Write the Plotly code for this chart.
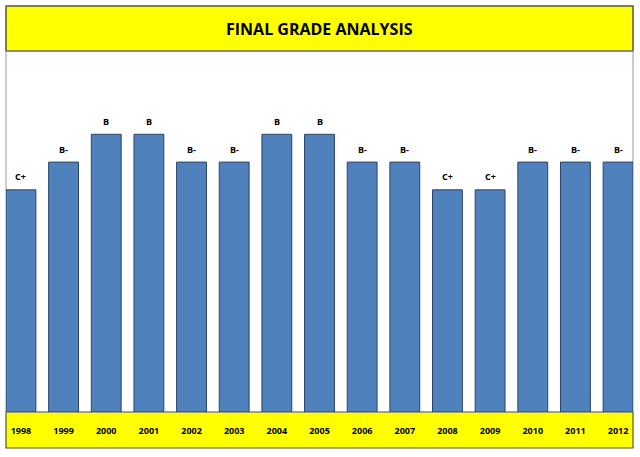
import plotly.graph_objects as go

# Data
years = ['1998', '1999', '2000', '2001', '2002', '2003', '2004', '2005',
         '2006', '2007', '2008', '2009', '2010', '2011', '2012']
grades = ['C+', 'B-', 'B', 'B', 'B-', 'B-', 'B', 'B', 'B-', 'B-', 'C+', 'C+', 'B-', 'B-', 'B-']
grade_points = [8, 9, 10, 10, 9, 9, 10, 10, 9, 9, 8, 8, 9, 9, 9]

BAR_BLUE = '#4F81BD'
YELLOW = '#FFFF00'
BAND_LINE = '#55552b'
FONT = 'Open Sans, Liberation Sans, sans-serif'

fig = go.Figure()
fig.add_trace(go.Bar(
    x=years, y=grade_points,
    marker=dict(color=BAR_BLUE, line=dict(color='#2b4466', width=1)),
    hoverinfo='skip'
))

# grade labels above each bar (x given as category index)
for i, (g, v) in enumerate(zip(grades, grade_points)):
    fig.add_annotation(x=i, y=v, text=g, showarrow=False, yshift=13,
                       font=dict(size=9, color='#000000', family=FONT, weight='bold'))

# title band + axis band
fig.add_shape(type='rect', xref='paper', yref='paper', x0=0, x1=1, y0=1, y1=1 + 45 / 361,
              fillcolor=YELLOW, line=dict(color=BAND_LINE, width=1.5), layer='below')
fig.add_shape(type='rect', xref='paper', yref='paper', x0=0, x1=1, y0=-36 / 361, y1=0,
              fillcolor=YELLOW, line=dict(color=BAND_LINE, width=1.2), layer='below')
fig.add_shape(type='rect', xref='paper', yref='paper', x0=0, x1=1, y0=0, y1=1,
              fillcolor='rgba(0,0,0,0)', line=dict(color='#9a9a9a', width=1), layer='below')
fig.add_annotation(xref='paper', yref='paper', x=0.5, y=1 + 22.5 / 361, text='FINAL GRADE ANALYSIS',
                   showarrow=False, yanchor='middle',
                   font=dict(size=16, color='#000000', family=FONT, weight='bold'))

fig.update_layout(
    width=640, height=457,
    margin=dict(l=6, r=7, t=51, b=45),
    paper_bgcolor='white', plot_bgcolor='white',
    bargap=0.3, showlegend=False,
    xaxis=dict(range=[-0.35, 14.35], showgrid=False, showline=False, zeroline=False,
               ticks='', ticklabelstandoff=12,
               tickfont=dict(size=9, color='#000000', family=FONT, weight='bold')),
    yaxis=dict(range=[0, 13], visible=False, showgrid=False, zeroline=False),
)

fig.write_html('out.html', config={'displayModeBar': False},
               post_script="document.body.style.margin='0';")
